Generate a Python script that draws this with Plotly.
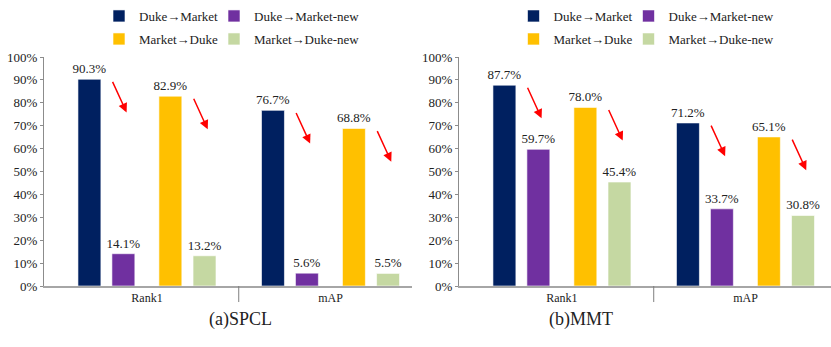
import plotly.graph_objects as go

# categories and series
categories = ['Rank1', 'mAP']
series_names = ['Duke→Market', 'Duke→Market-new', 'Market→Duke', 'Market→Duke-new']
colors = ['#002060', '#7030A0', '#FFC000', '#C5D8A2']

# (a) SPCL
spcl_duke_market = [90.3, 76.7]
spcl_duke_market_new = [14.1, 5.6]
spcl_market_duke = [82.9, 68.8]
spcl_market_duke_new = [13.2, 5.5]

# (b) MMT
mmt_duke_market = [87.7, 71.2]
mmt_duke_market_new = [59.7, 33.7]
mmt_market_duke = [78.0, 65.1]
mmt_market_duke_new = [45.4, 30.8]

y_ticks = list(range(0, 101, 10))
y_tick_text = [f'{v}%' for v in y_ticks]

FONT = 'Liberation Serif'
W, H = 831, 347
offsets = [-0.376, -0.191, 0.065, 0.251]
bar_w = 0.125

# legend symbol centres (px) for each panel: two columns, two rows
legend_cols = [[119, 234], [533.5, 648.5]]
legend_rows = [14, 37]

fig = go.Figure()

panels = [
    ('x', 'y', [spcl_duke_market, spcl_duke_market_new, spcl_market_duke, spcl_market_duke_new]),
    ('x2', 'y2', [mmt_duke_market, mmt_duke_market_new, mmt_market_duke, mmt_market_duke_new]),
]

leg_count = 0
for p, (xa, ya, series) in enumerate(panels):
    for k, vals in enumerate(series):
        leg_count += 1
        leg_id = 'legend' if leg_count == 1 else f'legend{leg_count}'
        fig.add_trace(go.Bar(
            x=categories, y=vals, name=series_names[k],
            xaxis=xa, yaxis=ya, legend=leg_id,
            offset=offsets[k], width=bar_w,
            marker=dict(color=colors[k], line=dict(color='rgba(255,255,255,0.6)', width=1)),
            texttemplate='%{y:.1f}%', textposition='outside',
            textfont=dict(family=FONT, size=13, color='#222'),
            constraintext='none', cliponaxis=False,
            hoverinfo='skip',
        ))
        cx = legend_cols[p][k % 2]
        cy = legend_rows[k // 2]
        fig.update_layout({leg_id: dict(
            x=(cx - 20) / W, y=1 - (cy - 13) / H, xanchor='left', yanchor='top',
            orientation='h', bgcolor='rgba(0,0,0,0)',
            font=dict(family=FONT, size=13, color='#222'),
        )})

    # red arrows from each baseline bar towards its "-new" bar
    for i in range(len(categories)):
        for first, second in [(0, 1), (2, 3)]:
            x0 = i + offsets[second]
            y0 = series[first][i] - 0.5
            fig.add_annotation(
                x=x0 + 0.08, y=y0 - 14, ax=x0, ay=y0,
                xref=xa, yref=ya, axref=xa, ayref=ya,
                showarrow=True, arrowhead=2, arrowsize=1.2, arrowwidth=1.5,
                arrowcolor='#FF0000', text='',
            )

    # divider tick between the two categories
    fig.add_shape(type='line', xref=xa, yref=ya + ' domain',
                  x0=0.5, x1=0.5, y0=0, y1=-0.07,
                  line=dict(color='#7F7F7F', width=1))

axis_y = dict(range=[0, 100], tickvals=y_ticks, ticktext=y_tick_text, showgrid=False,
              showline=True, linecolor='#8C8C8C', linewidth=1,
              ticks='outside', ticklen=3, tickcolor='#8C8C8C', automargin=False,
              tickfont=dict(family=FONT, size=13, color='#222'), zeroline=False)
axis_x = dict(type='category', showgrid=False, showline=True, linecolor='#A6A6A6',
              linewidth=1.5, ticks='', automargin=False,
              tickfont=dict(family=FONT, size=12, color='#222'))

y_dom = [1 - 286 / H, 1 - 57 / H]
fig.update_layout(
    width=W, height=H,
    margin=dict(l=0, r=0, t=0, b=0),
    paper_bgcolor='white', plot_bgcolor='white',
    barmode='overlay',
    showlegend=True,
    xaxis=dict(axis_x, domain=[44 / W, 412 / W], range=[-0.561, 1.444], anchor='y'),
    xaxis2=dict(axis_x, domain=[459 / W, 1.0], range=[-0.561, 1.466], anchor='y2'),
    yaxis=dict(axis_y, domain=y_dom, anchor='x'),
    yaxis2=dict(axis_y, domain=y_dom, anchor='x2'),
    font=dict(family=FONT, size=13, color='#222'),
)

fig.add_annotation(text='(a)SPCL', x=207 / W, y=1 - 332 / H, xref='paper', yref='paper',
                   showarrow=False, font=dict(family=FONT, size=18, color='#222'))
fig.add_annotation(text='(b)MMT', x=615 / W, y=1 - 332 / H, xref='paper', yref='paper',
                   showarrow=False, font=dict(family=FONT, size=18, color='#222'))

# drop the browser's default page margin so the figure sits at the window origin
fig.write_html('out.html', config={'displayModeBar': False},
               post_script="document.body.style.margin='0';")
